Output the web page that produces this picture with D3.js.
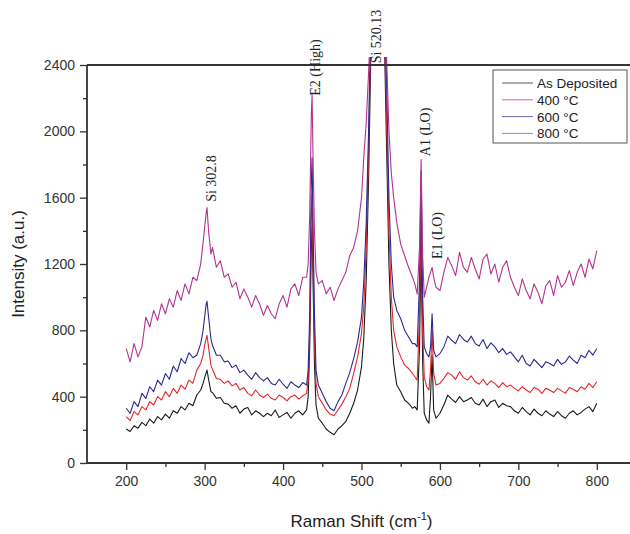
<!DOCTYPE html>
<html><head><meta charset="utf-8">
<script src="https://cdn.jsdelivr.net/npm/d3@7"></script>
<style>body{margin:0;background:#fff}svg{display:block}</style>
</head><body>
<svg id="c" width="630" height="534"></svg>
<script>
const shift = [
200,205,210,215,220,225,230,235,240,245,
250,255,260,265,270,275,280,285,290,295,
298,300,302,303,305,308,310,315,320,325,
330,335,340,345,350,355,360,365,370,375,
380,385,390,395,400,405,410,415,420,425,
430,432,434,435,436,437,438,440,442,445,
450,455,460,465,470,475,480,485,490,495,
500,503,506,509,512,515,518,520,523,526,
529,532,535,538,541,545,550,555,560,565,
568,571,574,576,578,580,583,586,588,590,
592,595,600,605,610,615,620,625,630,635,
640,645,650,655,660,665,670,675,680,685,
690,695,700,705,710,715,720,725,730,735,
740,745,750,755,760,765,770,775,780,785,
790,795,800];
const asDeposited = [
205,190,225,210,245,225,265,240,280,260,
295,270,315,300,340,320,360,345,410,440,
480,515,545,560,505,430,425,390,395,360,
355,330,345,300,325,335,290,315,300,280,
300,285,320,275,290,305,270,300,315,290,
320,400,700,1000,1300,1420,1150,600,350,270,
240,205,185,170,205,225,250,300,360,440,
580,760,1100,1700,2500,3000,3000,3000,3000,3000,
2600,1900,1200,800,600,470,430,380,360,330,
340,320,700,1300,600,300,260,240,400,650,
320,270,300,350,410,385,365,400,370,380,
395,360,350,385,340,370,380,335,360,345,
340,315,300,335,310,290,325,300,285,315,
295,280,310,285,270,300,315,290,305,325,
340,310,360];
const t400 = [
280,255,310,290,340,320,370,350,400,380,
430,400,450,420,470,445,500,480,560,600,
650,710,750,770,700,590,565,510,505,480,
495,465,480,440,455,420,405,440,410,395,
415,390,380,410,395,375,400,410,385,405,
420,500,800,1150,1500,1620,1300,750,480,400,
360,320,295,285,320,355,400,450,540,640,
780,950,1300,1900,2600,3000,3000,3000,3000,3000,
2700,2100,1400,1000,800,700,640,590,570,540,
520,500,900,1500,800,520,460,440,560,800,
540,470,480,510,545,530,505,550,515,500,
525,490,475,505,470,495,480,455,485,460,
470,450,435,460,440,425,455,445,420,450,
440,425,450,435,420,455,445,430,460,445,
480,455,490];
const t600 = [
330,300,370,340,420,390,460,430,500,470,
540,505,585,550,630,600,665,635,650,720,
800,880,960,975,880,750,710,650,650,610,
615,575,590,545,560,530,505,545,515,495,
515,480,470,505,475,450,490,470,455,485,
470,560,900,1300,1700,1840,1500,900,560,470,
420,370,330,315,370,410,480,545,630,730,
880,1100,1450,2000,2700,3000,3000,3000,3000,3000,
2900,2300,1600,1200,1000,920,870,800,760,720,
720,700,1100,1760,1000,700,660,640,700,900,
680,640,660,700,765,740,720,775,745,730,
765,720,705,745,690,725,700,665,690,655,
670,640,610,650,600,585,625,600,575,610,
600,585,625,595,610,645,620,600,650,635,
680,650,690];
const t800 = [
690,610,720,640,700,880,820,920,860,960,
900,990,940,1040,980,1080,1020,1120,1100,1200,
1330,1420,1510,1540,1400,1260,1300,1180,1220,1120,
1140,1060,1090,990,1050,1000,940,1010,960,890,
950,900,870,960,1010,940,1050,1080,1010,1120,
1120,1200,1500,1800,2100,2220,1900,1400,1150,1080,
1100,1020,1060,980,1050,1100,1150,1250,1300,1400,
1600,1850,2050,2350,2700,3000,3000,3000,3000,3000,
2800,2450,2000,1750,1600,1450,1320,1250,1180,1120,
1080,1020,1300,1830,1250,1000,1060,1120,1150,1180,
1120,1060,1040,1150,1240,1190,1130,1270,1180,1150,
1240,1170,1110,1230,1260,1140,1200,1090,1180,1220,
1120,1060,1010,1110,1040,990,1080,1030,960,1070,
1100,1010,1130,1060,1090,1160,1070,1150,1200,1120,
1230,1170,1280];
const seriesNames = ["As Deposited","400 °C","600 °C","800 °C"];
const seriesColors = ["#1a1a1a","#e3262b","#2d2a8e","#b2338f"];
const xTicks = [200,300,400,500,600,700,800];
const xMinor = [250,350,450,550,650,750];
const yTicks = [0,400,800,1200,1600,2000,2400];
const yMinor = [200,600,1000,1400,1800,2200];
const peakLabels = ["Si 302.8","E2 (High)","Si 520.13","A1 (LO)","E1 (LO)"];
const peakPos = [302.8,437,520.13,576,590];
const peakLabelBottom = [1575,2215,2410,1850,1230];

const svg = d3.select("#c");
const L=87, R=636, T=65, B=463;
const x = d3.scaleLinear().domain([150,850]).range([L,R]);
const y = d3.scaleLinear().domain([0,2400]).range([B,T]);
const axisColor="#333";
const fmt = d3.format("d");

svg.append("defs").append("clipPath").attr("id","clip")
  .append("rect").attr("x",L).attr("y",57).attr("width",R-L).attr("height",B-57);

const allSeries=[asDeposited,t400,t600,t800];
const line = d3.line().x(d=>x(d[0])).y(d=>y(d[1]));
const g = svg.append("g").attr("clip-path","url(#clip)");
allSeries.forEach((s,i)=>{
  g.append("path").datum(shift.map((v,j)=>[v,s[j]]))
   .attr("d",line).attr("fill","none").attr("stroke",seriesColors[i])
   .attr("stroke-width",1.1).attr("stroke-linejoin","round");
});

// axes
const xa = svg.append("g").attr("transform",`translate(0,${B})`)
  .call(d3.axisBottom(x).tickValues(xTicks).tickFormat(fmt).tickSize(7).tickPadding(6));
xa.select(".domain").remove();
xa.selectAll("line").attr("stroke",axisColor).attr("stroke-width",1.3);
xa.selectAll("text").attr("font-family","Liberation Sans, Arial, sans-serif").attr("font-size",14).attr("fill","#333");
const xm = svg.append("g").attr("transform",`translate(0,${B})`)
  .call(d3.axisBottom(x).tickValues(xMinor).tickSize(4).tickFormat(""));
xm.select(".domain").remove();
xm.selectAll("line").attr("stroke",axisColor).attr("stroke-width",1.3);

const ya = svg.append("g").attr("transform",`translate(${L},0)`)
  .call(d3.axisLeft(y).tickValues(yTicks).tickFormat(fmt).tickSize(7).tickPadding(5));
ya.select(".domain").remove();
ya.selectAll("line").attr("stroke",axisColor).attr("stroke-width",1.3);
ya.selectAll("text").attr("font-family","Liberation Sans, Arial, sans-serif").attr("font-size",14).attr("fill","#333");
const ym = svg.append("g").attr("transform",`translate(${L},0)`)
  .call(d3.axisLeft(y).tickValues(yMinor).tickSize(4).tickFormat(""));
ym.select(".domain").remove();
ym.selectAll("line").attr("stroke",axisColor).attr("stroke-width",1.3);

svg.append("line").attr("x1",L).attr("x2",R).attr("y1",B).attr("y2",B).attr("stroke",axisColor).attr("stroke-width",1.8);
svg.append("line").attr("x1",L).attr("x2",R).attr("y1",T).attr("y2",T).attr("stroke",axisColor).attr("stroke-width",1.8);
svg.append("line").attr("x1",L).attr("x2",L).attr("y1",T).attr("y2",B).attr("stroke",axisColor).attr("stroke-width",1.8);

// axis titles
svg.append("text").attr("x",(L+R)/2).attr("y",527).attr("text-anchor","middle")
  .attr("font-family","Liberation Sans, Arial, sans-serif").attr("font-size",17).attr("fill","#222")
  .html('Raman Shift (cm<tspan dy="-7" font-size="11">-1</tspan><tspan dy="7">)</tspan>');
svg.append("text").attr("transform",`translate(24,${(T+B)/2}) rotate(-90)`).attr("text-anchor","middle")
  .attr("font-family","Liberation Sans, Arial, sans-serif").attr("font-size",17).attr("fill","#222")
  .text("Intensity (a.u.)");

// peak labels
const labelDx = [9,8,4,9,10];
peakLabels.forEach((t,i)=>{
  svg.append("text").attr("transform",`translate(${x(peakPos[i])+labelDx[i]},${y(peakLabelBottom[i])}) rotate(-90)`)
    .attr("font-family","Liberation Serif, Times New Roman, serif").attr("font-size",14).attr("fill","#222")
    .text(t);
});

// legend
const lg = svg.append("g");
lg.append("rect").attr("x",493).attr("y",70).attr("width",134).attr("height",73)
  .attr("fill","#fff").attr("stroke","#555").attr("stroke-width",1);
seriesNames.forEach((n,i)=>{
  const yy = 83 + i*16.8;
  lg.append("line").attr("x1",502).attr("x2",533).attr("y1",yy).attr("y2",yy)
    .attr("stroke",seriesColors[i]).attr("stroke-width",1).attr("opacity",0.7);
  lg.append("text").attr("x",537).attr("y",yy+5).attr("font-family","Liberation Sans, Arial, sans-serif")
    .attr("font-size",13.5).attr("fill","#222").text(n);
});
</script>
</body></html>
